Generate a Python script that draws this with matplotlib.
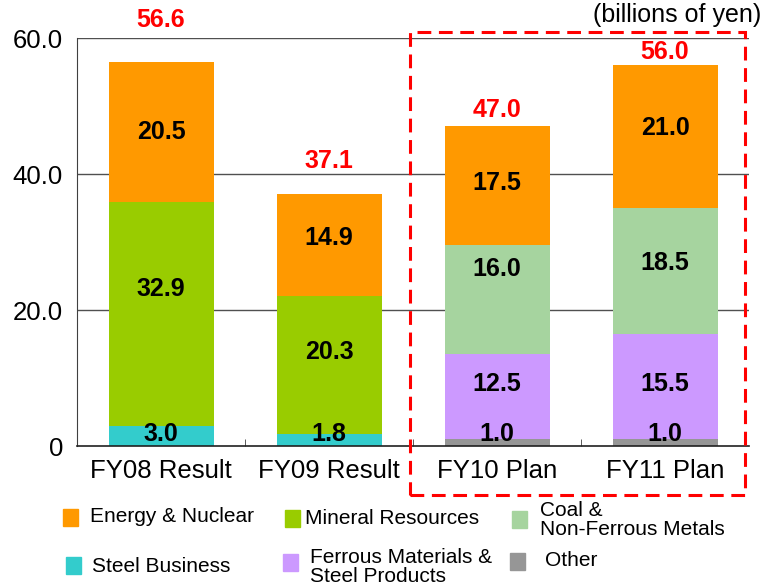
import matplotlib
matplotlib.use("Agg")
import matplotlib.pyplot as plt
from matplotlib.patches import Rectangle
import numpy as np

plt.rcParams['font.family'] = ['Liberation Sans', 'DejaVu Sans']

categories = ["FY08 Result", "FY09 Result", "FY10 Plan", "FY11 Plan"]
series_names = ["Other", "Steel Business", "Ferrous Materials &\nSteel Products",
                "Mineral Resources", "Coal &\nNon-Ferrous Metals", "Energy & Nuclear"]
other = [0.0, 0.0, 1.0, 1.0]
steel = [3.0, 1.8, 0.0, 0.0]
ferrous = [0.0, 0.0, 12.5, 15.5]
mineral = [32.9, 20.3, 0.0, 0.0]
coal = [0.0, 0.0, 16.0, 18.5]
energy = [20.5, 14.9, 17.5, 21.0]
totals = [56.6, 37.1, 47.0, 56.0]
yticks = [0, 20, 40, 60]
ytick_labels = ["0", "20.0", "40.0", "60.0"]

# label placement tweaks (style only, in data units)
total_offsets = [6.0, 4.8, 2.4, 1.9]
seg_label_shift = {
    "Mineral Resources": [3.6, 1.8, 0, 0],
    "Ferrous Materials &\nSteel Products": [0, 0, 1.8, 0.3],
    "Coal &\nNon-Ferrous Metals": [0, 0, 4.6, 1.1],
    "Energy & Nuclear": [0, 1.0, 0.4, 1.3],
}

colors = {
    "Other": "#969696",
    "Steel Business": "#33CCCC",
    "Ferrous Materials &\nSteel Products": "#CC99FF",
    "Mineral Resources": "#99CC00",
    "Coal &\nNon-Ferrous Metals": "#A6D49F",
    "Energy & Nuclear": "#FF9900",
}
data = [other, steel, ferrous, mineral, coal, energy]

fig = plt.figure(figsize=(7.65, 5.88), dpi=100)
ax = fig.add_axes([77 / 765, 1 - 446 / 588, 672 / 765, 408 / 588])

x = np.arange(len(categories))
bottom = np.zeros(len(categories))
width = 0.625
for name, vals in zip(series_names, data):
    vals = np.array(vals)
    ax.bar(x, vals, width, bottom=bottom, color=colors[name], zorder=2)
    shifts = seg_label_shift.get(name, [0, 0, 0, 0])
    for i, v in enumerate(vals):
        if v > 0:
            if v < 4:
                yc = bottom[i] + 1.8
            else:
                yc = bottom[i] + v / 2 + shifts[i]
            ax.text(x[i], yc, f"{v:.1f}", ha='center', va='center',
                    fontsize=18, fontweight='bold', color='black', zorder=4)
    bottom += vals

# totals
for i, t in enumerate(totals):
    ax.text(x[i], t + total_offsets[i], f"{t:.1f}", ha='center', va='center',
            fontsize=18, fontweight='bold', color='#FF0000', clip_on=False)

ax.set_xlim(-0.5, 3.5)
ax.set_ylim(0, 60)
ax.set_yticks(yticks)
ax.set_yticklabels(ytick_labels, fontsize=18.5)
ax.set_xticks(x)
ax.set_xticklabels(categories, fontsize=18.5)
ax.set_xticks([0.5, 1.5, 2.5], minor=True)
ax.tick_params(axis='x', which='major', length=0, pad=9.5)
ax.tick_params(axis='x', which='minor', length=5, direction='in', color='#404040')
ax.tick_params(axis='y', length=0, pad=10)
for s in ['top', 'right']:
    ax.spines[s].set_visible(False)
ax.spines['left'].set_color('#404040')
ax.spines['bottom'].set_color('#202020')
ax.spines['bottom'].set_linewidth(1.2)
for yv in [20, 40, 60]:
    ax.axhline(yv, color='#505050', linewidth=1.0, zorder=1)

# red dashed box
ax.add_patch(Rectangle((1.48, -7.2), 1.995, 68.1, fill=False, edgecolor='#FF0000',
                       linestyle=(0, (4.5, 2.5)), linewidth=2.2, clip_on=False, zorder=5))

fig.text(0.995, 0.975, "(billions of yen)", ha='right', va='center', fontsize=18)

# legend
legend_items = [
    ("Energy & Nuclear", 63, 517, 90, 517),
    ("Mineral Resources", 285, 518, 305, 519),
    ("Coal &\nNon-Ferrous Metals", 512, 519, 540, 520),
    ("Steel Business", 66, 565, 92, 566),
    ("Ferrous Materials &\nSteel Products", 283, 562, 310, 567),
    ("Other", 510, 561, 545, 560),
]
W, H = 765.0, 588.0
for name, sx, sy, tx, ty in legend_items:
    fig.patches.append(Rectangle((sx / W, 1 - (sy + 9) / H), 15 / W, 17 / H,
                                 transform=fig.transFigure, color=colors[name]))
    fig.text(tx / W, 1 - ty / H, name, ha='left', va='center', fontsize=15,
             linespacing=0.95)

fig.savefig("out.png", dpi=100)
